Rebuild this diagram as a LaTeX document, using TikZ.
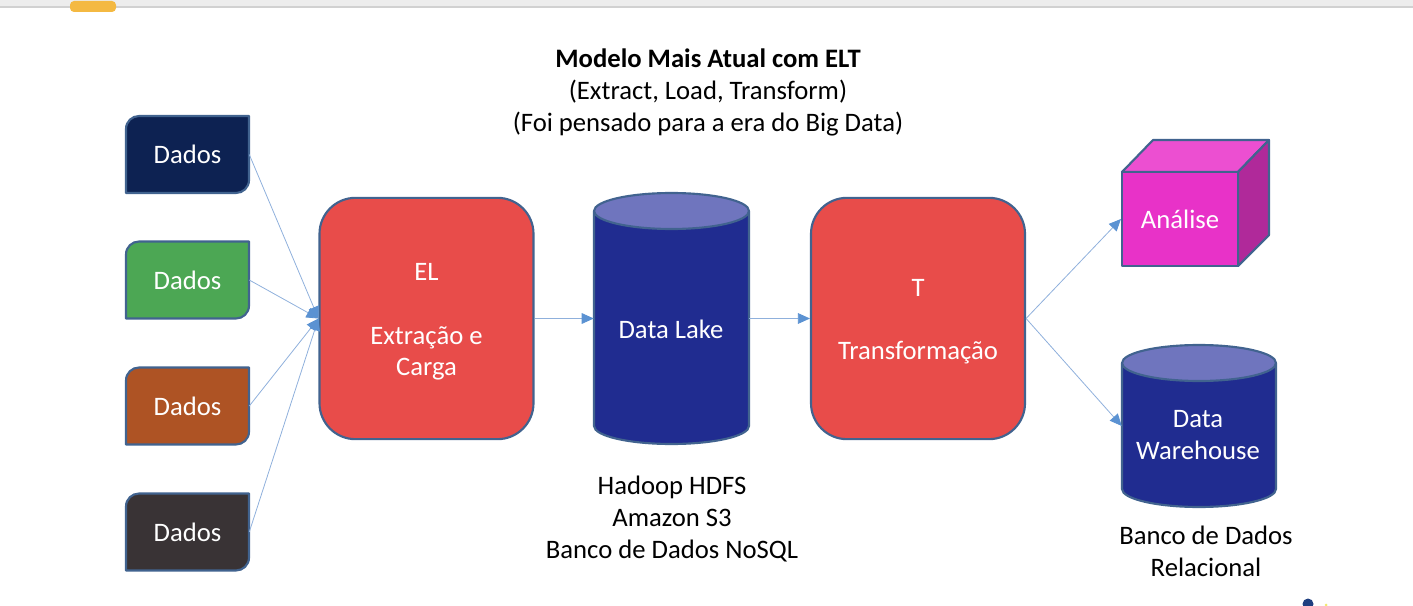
\documentclass[tikz,border=0pt]{standalone}
\usepackage{fontspec}
\setmainfont{Carlito}
\usetikzlibrary{arrows.meta}
\definecolor{edgeblue}{HTML}{41638F}
\definecolor{linkblue}{HTML}{8FB0DC}
\definecolor{tipblue}{HTML}{5B92D2}
\definecolor{navy}{HTML}{0D2252}
\definecolor{leaf}{HTML}{4CA754}
\definecolor{rust}{HTML}{AE5324}
\definecolor{coal}{HTML}{393335}
\definecolor{redbox}{HTML}{E84C4A}
\definecolor{cylbody}{HTML}{202C90}
\definecolor{cyltop}{HTML}{6F75BE}
\definecolor{magfront}{HTML}{E832C8}
\definecolor{magtop}{HTML}{EC4FD1}
\definecolor{magside}{HTML}{B0299A}
\definecolor{tabgold}{HTML}{F4B942}
\definecolor{speckblue}{HTML}{1F3F80}
\definecolor{speckyellow}{HTML}{F2E96A}
\tikzset{
  x=0.75pt, y=-0.75pt,
  shapeedge/.style={draw=edgeblue, line width=1.6pt, line join=round},
  dadosbox/.style={rectangle, minimum width=92.25pt, minimum height=57.75pt, inner sep=0pt, text=white, font=\fontsize{20}{24}\selectfont},
  redblock/.style={rectangle, rounded corners=27pt, shapeedge, fill=redbox, minimum width=160.5pt, minimum height=181pt, inner sep=0pt, text=white, align=center, font=\fontsize{20}{23.7}\selectfont},
  anchorbox/.style={rectangle, inner sep=0pt},
  whitelabel/.style={text=white, align=center, inner sep=0pt, font=\fontsize{20}{23.4}\selectfont},
  blacklabel/.style={text=black, align=center, inner sep=0pt, font=\fontsize{20}{24}\selectfont},
  link/.style={draw=linkblue, line width=0.6pt, -{Triangle[length=9pt,width=8pt,color=tipblue]}},
}
% \dadoscard{name}{center y}{colour}
\newcommand{\dadoscard}[3]{%
  \path[shapeedge, fill=#3] (139,#2-38.5) -- (249,#2-38.5)
    -- (249,#2+25.5) .. controls (249,#2+33) and (243,#2+38.5) .. (236,#2+38.5)
    -- (126,#2+38.5) -- (126,#2-25.5) .. controls (126,#2-33) and (132,#2-38.5) .. (139,#2-38.5) -- cycle;
  \node[dadosbox] (#1) at (187.5,#2) {Dados};
}
% \datacyl{name}{left}{right}{top}{bottom}
\newcommand{\datacyl}[5]{%
  \path[shapeedge, fill=cylbody] (#2,#4+18) -- (#2,#5-18) arc[start angle=180,end angle=360,x radius=#3/2*0.75pt-#2/2*0.75pt,y radius=13.5pt] -- (#3,#4+18) -- cycle;
  \path[shapeedge, fill=cyltop] (#2/2+#3/2,#4+18) ellipse[x radius=#3/2*0.75pt-#2/2*0.75pt,y radius=13.5pt];
  \node[anchorbox, minimum width=#3*0.75pt-#2*0.75pt, minimum height=#5*0.75pt-#4*0.75pt] (#1) at (#2/2+#3/2,#4/2+#5/2) {};
}
\begin{document}
\begin{tikzpicture}
\useasboundingbox (0,0) rectangle (1413,606);
\clip (0,0) rectangle (1413,606);
% window strip
\fill[black!7] (0,0) rectangle (1413,6);
\fill[black!18] (0,6) rectangle (1413,8);
\fill[rounded corners=3pt, fill=tabgold] (70,1) rectangle (116,12);
% title
\node[blacklabel] (title) at (708,92.5) {\textbf{Modelo Mais Atual com ELT}\\(Extract, Load, Transform)\\(Foi pensado para a era do Big Data)};
% sources
\dadoscard{d1}{154.5}{navy}
\dadoscard{d2}{280}{leaf}
\dadoscard{d3}{406}{rust}
\dadoscard{d4}{532}{coal}
% stages
\node[redblock] (el) at (426.5,318.5) {\rule{0pt}{18pt}EL\\\strut\\Extração e\\Carga};
\datacyl{lake}{594}{749}{193}{444}
\node[whitelabel] (laketext) at (671,329) {Data Lake};
\node[redblock] (tr) at (918,318.5) {\rule{0pt}{18pt}T\\\strut\\Transformação};
% cube
\path[shapeedge, fill=magtop] (1122,172) -- (1153,140) -- (1269,140) -- (1238,172) -- cycle;
\path[shapeedge, fill=magside] (1238,172) -- (1269,140) -- (1269,235) -- (1238,266) -- cycle;
\node[rectangle, shapeedge, fill=magfront, minimum width=87pt, minimum height=70.5pt, inner sep=0pt, text=white, font=\fontsize{20}{24}\selectfont] (ana) at (1180,219) {Análise};
% warehouse
\datacyl{dw}{1122}{1276}{345}{507}
\node[whitelabel] (dwtext) at (1198,435) {Data\\Warehouse};
% captions
\node[blacklabel] (lakecap) at (672,519.5) {Hadoop HDFS\\Amazon S3\\Banco de Dados NoSQL};
\node[blacklabel] (dwcap) at (1206,551.5) {Banco de Dados\\Relacional};
% connectors
\draw[link] (d1.east) -- (el.west);
\draw[link] (d2.east) -- (el.west);
\draw[link] (d3.east) -- (el.west);
\draw[link] (d4.east) -- (el.west);
\draw[link] (el.east) -- (lake.west);
\draw[link] (lake.east) -- (tr.west);
\draw[link] (tr.east) -- (ana.west);
\draw[link] (tr.east) -- (dw.west);
% corner specks
\fill[speckblue] (1308,604) circle[radius=5.5];
\fill[speckyellow] (1326,605) circle[radius=1.5];
\end{tikzpicture}
\end{document}
